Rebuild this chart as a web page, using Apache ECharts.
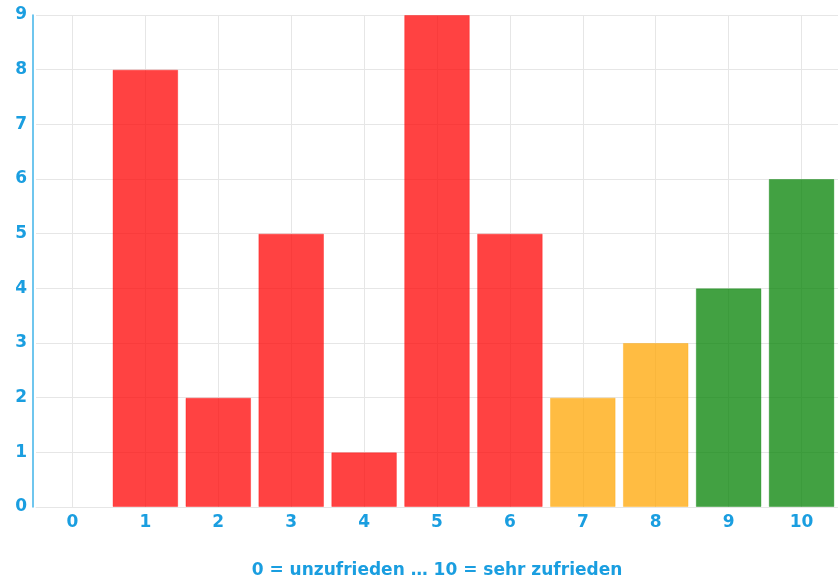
<!DOCTYPE html>
<html>
<head>
<meta charset="utf-8">
<script src="https://cdn.jsdelivr.net/npm/echarts@6/dist/echarts.min.js"></script>
<style>
html,body{margin:0;padding:0;background:#fff;}
#c{width:838px;height:584px;}
</style>
</head>
<body>
<div id="c"></div>
<script>
const categories = ['0','1','2','3','4','5','6','7','8','9','10'];
const counts = [0, 8, 2, 5, 1, 9, 5, 2, 3, 4, 6];
const axisTitle = '0 = unzufrieden … 10 = sehr zufrieden';

function colorFor(score, a) {
  if (score <= 6) return 'rgba(255,0,0,' + a + ')';
  if (score <= 8) return 'rgba(255,165,0,' + a + ')';
  return 'rgba(0,128,0,' + a + ')';
}

const chart = echarts.init(document.getElementById('c'));
const labelColor = '#1a9ee0';
const font = '"DejaVu Sans", Verdana, sans-serif';
chart.setOption({
  animation: false,
  grid: {left: 36, right: -2, top: 15, bottom: 74, containLabel: false},
  xAxis: {
    type: 'category',
    data: categories,
    name: axisTitle,
    nameLocation: 'middle',
    nameGap: 55,
    nameTextStyle: {color: labelColor, fontSize: 17, fontWeight: 'bold', fontFamily: font},
    axisLine: {show: true, lineStyle: {color: '#e6e6e6', width: 1}},
    axisTick: {show: false},
    axisLabel: {color: labelColor, fontSize: 17, fontWeight: 'bold', fontFamily: font, margin: 7},
    splitLine: {show: true, alignWithLabel: true, lineStyle: {color: '#e6e6e6'}}
  },
  yAxis: {
    type: 'value',
    min: 0, max: 9, interval: 1,
    offset: 3,
    axisLine: {show: true, lineStyle: {color: '#3fb3e8', width: 1.5}},
    axisTick: {show: false},
    axisLabel: {color: labelColor, fontSize: 17, fontWeight: 'bold', fontFamily: font, margin: 6},
    splitLine: {show: true, lineStyle: {color: '#e6e6e6'}}
  },
  series: [{
    type: 'bar',
    barCategoryGap: '10%',
    data: counts.map((v, i) => {
      const s = Number(categories[i]);
      return {
        value: v,
        itemStyle: v > 0
          ? {color: colorFor(s, 0.74), borderColor: colorFor(s, 0.35), borderWidth: 1}
          : {color: colorFor(s, 0.74)}
      };
    })
  }]
});
</script>
</body>
</html>
